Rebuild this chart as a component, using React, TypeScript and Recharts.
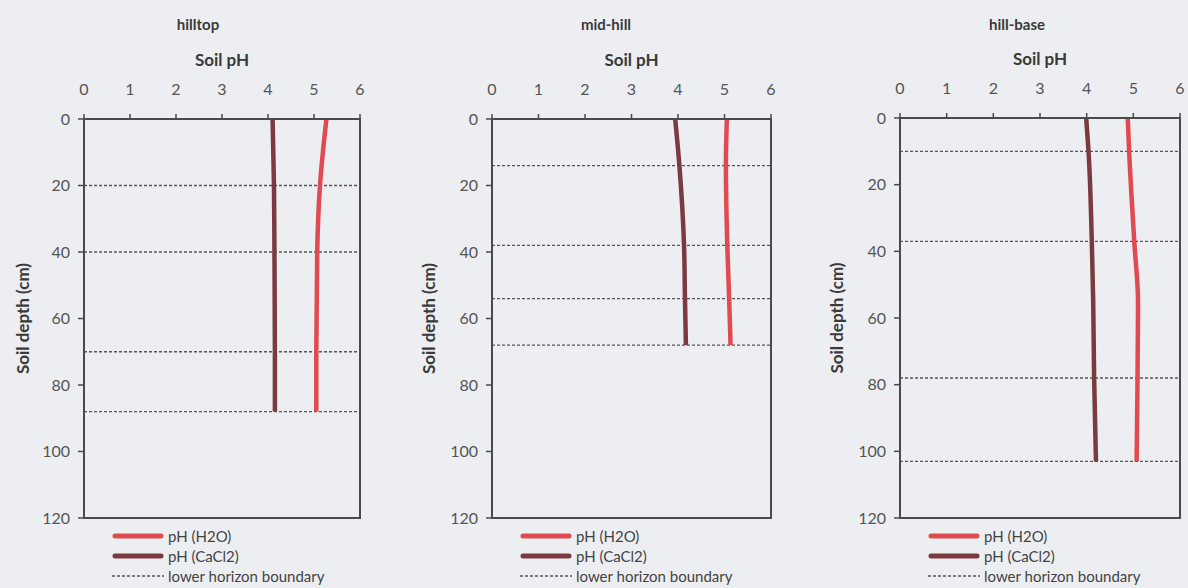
import React from 'react';
import { LineChart, Line, XAxis, YAxis, ReferenceLine, ReferenceArea } from 'recharts';

const phTicks = [0, 1, 2, 3, 4, 5, 6];
const depthTicks = [0, 20, 40, 60, 80, 100, 120];

const hilltopDepth = [0, 20, 40, 70, 88];
const hilltopH2O = [5.27, 5.13, 5.07, 5.05, 5.05];
const hilltopCaCl2 = [4.1, 4.13, 4.14, 4.15, 4.15];
const hilltopBoundaries = [20, 40, 70, 88];

const midhillDepth = [0, 14, 38, 54, 68];
const midhillH2O = [5.05, 5.03, 5.06, 5.1, 5.13];
const midhillCaCl2 = [3.94, 4.03, 4.13, 4.15, 4.17];
const midhillBoundaries = [14, 38, 54, 68];

const hillbaseDepth = [0, 10, 37, 55, 78, 103];
const hillbaseH2O = [4.88, 4.91, 5.02, 5.1, 5.09, 5.07];
const hillbaseCaCl2 = [3.99, 4.04, 4.11, 4.14, 4.16, 4.2];
const hillbaseBoundaries = [10, 37, 78, 103];

const seriesNames = ['pH (H2O)', 'pH (CaCl2)', 'lower horizon boundary'];

const FONT = 'Lato, "Open Sans", sans-serif';
const H2O_COLOR = '#e04a50';
const CACL2_COLOR = '#7a3a40';
const AXIS_COLOR = '#4a4a4a';
const TEXT_COLOR = '#555';
const BG = '#eceef2';

type PanelProps = {
  title: string;
  depth: number[];
  h2o: number[];
  cacl2: number[];
  boundaries: number[];
  left: number;
  width: number;
  yAxisWidth: number;
  marginRight: number;
  marginTop: number;
  titleX: number;
  yLabelDx: number;
};

function Panel(p: PanelProps) {
  const data = p.depth.map((d, i) => ({ depth: d, h2o: p.h2o[i], cacl2: p.cacl2[i] }));
  const plotLeft = p.left + p.yAxisWidth;
  const legendLeft = plotLeft + 28;
  return (
    <>
      <div
        style={{
          position: 'absolute',
          left: p.titleX - 100,
          width: 200,
          top: 15,
          textAlign: 'center',
          fontFamily: FONT,
          fontWeight: 700,
          fontSize: 15,
          color: '#3a3a3a',
        }}
      >
        {p.title}
      </div>
      <div style={{ position: 'absolute', left: p.left, top: 0 }}>
        <LineChart
          width={p.width}
          height={588}
          data={data}
          layout="vertical"
          margin={{ top: p.marginTop, right: p.marginRight, bottom: 70, left: 0 }}
        >
          <XAxis
            type="number"
            orientation="top"
            domain={[0, 6]}
            ticks={phTicks}
            height={70}
            tickSize={5}
            tickMargin={19}
            axisLine={{ stroke: AXIS_COLOR, strokeWidth: 2 }}
            tickLine={{ stroke: AXIS_COLOR, strokeWidth: 1.5 }}
            tick={{ fontSize: 16, fill: TEXT_COLOR, fontFamily: FONT }}
            label={{
              value: 'Soil pH',
              position: 'center',
              dy: -24,
              style: { fontSize: 17, fontWeight: 700, fill: '#3a3a3a', fontFamily: FONT },
            }}
          />
          <YAxis
            type="number"
            dataKey="depth"
            domain={[0, 120]}
            ticks={depthTicks}
            width={p.yAxisWidth}
            tickSize={6}
            tickMargin={8}
            axisLine={{ stroke: AXIS_COLOR, strokeWidth: 2 }}
            tickLine={{ stroke: AXIS_COLOR, strokeWidth: 1.5 }}
            tick={{ fontSize: 16, fill: TEXT_COLOR, fontFamily: FONT }}
            label={{
              value: 'Soil depth (cm)',
              angle: -90,
              position: 'center',
              dx: p.yLabelDx,
              style: { fontSize: 17, fontWeight: 700, fill: '#3a3a3a', fontFamily: FONT },
            }}
          />
          <ReferenceArea
            x1={0}
            x2={6}
            y1={0}
            y2={120}
            fill="none"
            stroke={AXIS_COLOR}
            strokeWidth={2}
            fillOpacity={0}
          />
          {p.boundaries.map((b) => (
            <ReferenceLine
              key={b}
              y={b}
              stroke="#555"
              strokeDasharray="3 2"
              strokeWidth={1.3}
            />
          ))}
          <Line
            dataKey="h2o"
            name={seriesNames[0]}
            type="monotoneY"
            stroke={H2O_COLOR}
            strokeWidth={4.5}
            dot={false}
            isAnimationActive={false}
          />
          <Line
            dataKey="cacl2"
            name={seriesNames[1]}
            type="monotoneY"
            stroke={CACL2_COLOR}
            strokeWidth={4.5}
            dot={false}
            isAnimationActive={false}
          />
        </LineChart>
      </div>
      <div
        style={{
          position: 'absolute',
          left: legendLeft,
          top: 526,
          fontFamily: FONT,
          fontSize: 15,
          color: '#444',
          lineHeight: '20px',
        }}
      >
        {[0, 1, 2].map((i) => (
          <div key={i} style={{ display: 'flex', alignItems: 'center', height: 20 }}>
            <svg width={54} height={10} style={{ marginRight: 2 }}>
              {i < 2 ? (
                <line
                  x1={3}
                  y1={5}
                  x2={49}
                  y2={5}
                  stroke={i === 0 ? H2O_COLOR : CACL2_COLOR}
                  strokeWidth={5}
                  strokeLinecap="round"
                />
              ) : (
                <line x1={0} y1={5} x2={52} y2={5} stroke="#555" strokeWidth={1.3} strokeDasharray="3 2" />
              )}
            </svg>
            <span>{seriesNames[i]}</span>
          </div>
        ))}
      </div>
    </>
  );
}

export default function App() {
  return (
    <div style={{ position: 'absolute', left: 0, top: 0, width: 1188, height: 588, background: BG, overflow: 'hidden' }}>
      <Panel
        title="hilltop"
        depth={hilltopDepth}
        h2o={hilltopH2O}
        cacl2={hilltopCaCl2}
        boundaries={hilltopBoundaries}
        left={0}
        width={400}
        yAxisWidth={84}
        marginRight={40}
        marginTop={49}
        titleX={198}
        yLabelDx={-19}
      />
      <Panel
        title="mid-hill"
        depth={midhillDepth}
        h2o={midhillH2O}
        cacl2={midhillCaCl2}
        boundaries={midhillBoundaries}
        left={400}
        width={400}
        yAxisWidth={92}
        marginRight={29}
        marginTop={49}
        titleX={606}
        yLabelDx={-17}
      />
      <Panel
        title="hill-base"
        depth={hillbaseDepth}
        h2o={hillbaseH2O}
        cacl2={hillbaseCaCl2}
        boundaries={hillbaseBoundaries}
        left={800}
        width={388}
        yAxisWidth={100}
        marginRight={8}
        marginTop={48}
        titleX={1017}
        yLabelDx={-13}
      />
    </div>
  );
}
